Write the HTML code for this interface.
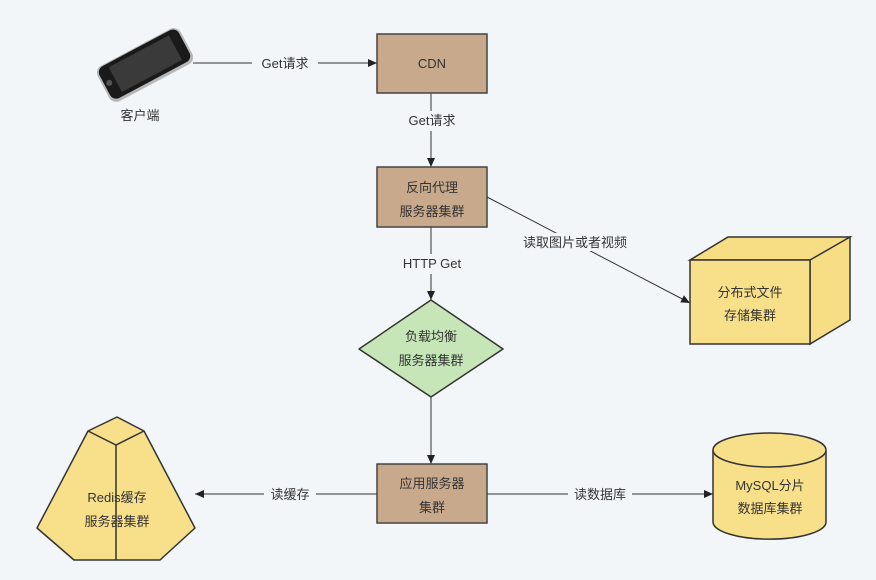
<!DOCTYPE html>
<html><head><meta charset="utf-8"><style>
html,body{margin:0;padding:0;background:#f3f6f9;}
svg{display:block}
text{font-family:"Liberation Sans","Noto Sans CJK SC",sans-serif;font-size:13px;fill:#333;}
</style></head><body>
<svg width="876" height="580" viewBox="0 0 876 580">
<defs><marker id="a" markerWidth="10" markerHeight="10" refX="9" refY="5" orient="auto" markerUnits="userSpaceOnUse"><path d="M0,1 L9,5 L0,9 Z" fill="#222"/></marker></defs>
<rect width="876" height="580" fill="#f3f6f9"/>
<!-- phone -->
<g transform="translate(145,65) rotate(-28)">
<rect x="-47" y="-20" width="94" height="40" rx="8" fill="#b8b8b8"/>
<rect x="-45" y="-19" width="90" height="36" rx="7" fill="#1a1a1a"/>
<rect x="-33" y="-15" width="68" height="28" fill="#3a3a3a"/>
<circle cx="-40" cy="-1" r="3" fill="#555"/>
</g>
<text x="140" y="120" text-anchor="middle">客户端</text>
<!-- connectors -->
<line x1="193" y1="63" x2="377" y2="63" stroke="#333" marker-end="url(#a)"/>
<rect x="252" y="55" width="66" height="16" fill="#f3f6f9"/>
<text x="285" y="68" text-anchor="middle">Get请求</text>
<line x1="431" y1="93" x2="431" y2="167" stroke="#333" marker-end="url(#a)"/>
<rect x="400" y="111" width="64" height="20" fill="#f3f6f9"/>
<text x="432" y="125" text-anchor="middle">Get请求</text>
<line x1="431" y1="227" x2="431" y2="300" stroke="#333" marker-end="url(#a)"/>
<rect x="395" y="254" width="74" height="20" fill="#f3f6f9"/>
<text x="432" y="268" text-anchor="middle">HTTP Get</text>
<line x1="487" y1="197" x2="690" y2="303" stroke="#333" marker-end="url(#a)"/>
<rect x="512" y="233" width="126" height="18" fill="#f3f6f9"/>
<text x="575" y="247" text-anchor="middle">读取图片或者视频</text>
<line x1="431" y1="397" x2="431" y2="464" stroke="#333" marker-end="url(#a)"/>
<line x1="377" y1="494" x2="195" y2="494" stroke="#333" marker-end="url(#a)"/>
<rect x="264" y="485" width="52" height="18" fill="#f3f6f9"/>
<text x="290" y="499" text-anchor="middle">读缓存</text>
<line x1="487" y1="494" x2="713" y2="494" stroke="#333" marker-end="url(#a)"/>
<rect x="568" y="485" width="64" height="18" fill="#f3f6f9"/>
<text x="600" y="499" text-anchor="middle">读数据库</text>
<!-- boxes -->
<rect x="377" y="34" width="110" height="59" fill="#c8a98b" stroke="#444" stroke-width="1.5"/>
<text x="432" y="68" text-anchor="middle">CDN</text>
<rect x="377" y="167" width="110" height="60" fill="#c8a98b" stroke="#444" stroke-width="1.5"/>
<text x="432" y="192" text-anchor="middle">反向代理</text>
<text x="432" y="216" text-anchor="middle">服务器集群</text>
<polygon points="431,300 503,349 431,397 359,349" fill="#c6e6b8" stroke="#333" stroke-width="1.5" stroke-linejoin="round"/>
<text x="431" y="341" text-anchor="middle">负载均衡</text>
<text x="431" y="365" text-anchor="middle">服务器集群</text>
<rect x="377" y="464" width="110" height="59" fill="#c8a98b" stroke="#444" stroke-width="1.5"/>
<text x="432" y="488" text-anchor="middle">应用服务器</text>
<text x="432" y="512" text-anchor="middle">集群</text>
<!-- cube -->
<polygon points="690,260 728,237 850,237 812,260" fill="#f7dd84" stroke="#333" stroke-width="1.5"/>
<polygon points="810,260 850,237 850,320 810,344" fill="#f7dd84" stroke="#333" stroke-width="1.5"/>
<rect x="690" y="260" width="120" height="84" fill="#f8e08a" stroke="#333" stroke-width="1.5"/>
<text x="750" y="297" text-anchor="middle">分布式文件</text>
<text x="750" y="320" text-anchor="middle">存储集群</text>
<!-- cylinder -->
<path d="M713,450 L713,522 A56,17 0 0 0 826,522 L826,450" fill="#f8e08a" stroke="#333" stroke-width="1.5"/>
<ellipse cx="769.5" cy="450" rx="56.5" ry="17" fill="#f8e08a" stroke="#333" stroke-width="1.5"/>
<text x="770" y="490" text-anchor="middle">MySQL分片</text>
<text x="770" y="513" text-anchor="middle">数据库集群</text>
<!-- redis pyramid -->
<polygon points="88,431 117,417 144,431 195,528 160,560 74,560 37,528" fill="#f8e08a" stroke="#333" stroke-width="1.5" stroke-linejoin="round"/>
<polyline points="88,431 116,445 144,431" fill="none" stroke="#333" stroke-width="1.5"/>
<line x1="116" y1="445" x2="116" y2="560" stroke="#333" stroke-width="1.5"/>
<text x="117" y="502" text-anchor="middle">Redis缓存</text>
<text x="117" y="526" text-anchor="middle">服务器集群</text>
</svg>
</body></html>
